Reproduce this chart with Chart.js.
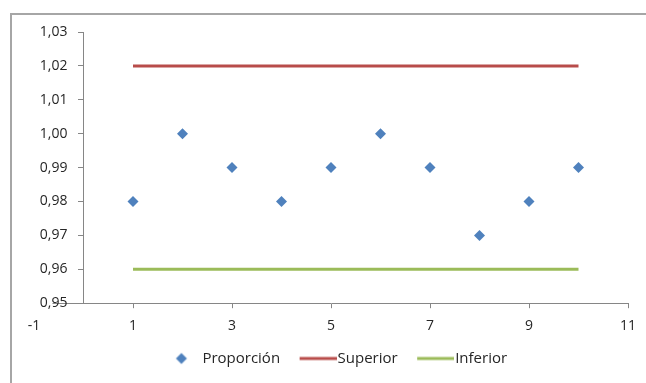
<!DOCTYPE html>
<html>
<head>
<meta charset="utf-8">
<script src="https://cdn.jsdelivr.net/npm/chart.js@4/dist/chart.umd.min.js"></script>
<style>
  html, body { margin: 0; padding: 0; background: #fff; }
  #wrap { position: relative; width: 646px; height: 383px; overflow: hidden; }
  #frame { position: absolute; left: 10px; top: 13px; width: 700px; height: 400px;
           border-left: 2px solid #a6a6a6; border-top: 2px solid #a6a6a6; }
  #chart { position: absolute; left: 0; top: 0; }
</style>
</head>
<body>
<div id="wrap">
  <div id="frame"></div>
  <canvas id="chart" width="646" height="383"></canvas>
</div>
<script>
const muestras = [1, 2, 3, 4, 5, 6, 7, 8, 9, 10];
const proporcion = [0.98, 1.00, 0.99, 0.98, 0.99, 1.00, 0.99, 0.97, 0.98, 0.99];
const superior = [1.02, 1.02, 1.02, 1.02, 1.02, 1.02, 1.02, 1.02, 1.02, 1.02];
const inferior = [0.96, 0.96, 0.96, 0.96, 0.96, 0.96, 0.96, 0.96, 0.96, 0.96];
const nombres = ["Proporción", "Superior", "Inferior"];
const colores = ["#4f81bd", "#b84c4a", "#9bbb59"];

const toPoints = (ys) => muestras.map((x, i) => ({ x: x, y: ys[i] }));

// y axis sits at x = 0 (like Excel) but its labels must stay left of the tick marks
class LinearScaleLeft extends Chart.LinearScale {
  _computeLabelItems(area) {
    const items = super._computeLabelItems(area);
    if (this.axis === "y") {
      const shift = this.options.ticks.padding + this.options.grid.tickLength;
      items.forEach((it) => {
        it.options.translation[0] -= shift;
        if (it.options.backdrop) it.options.backdrop.left -= shift;
      });
    }
    return items;
  }
}
LinearScaleLeft.id = "linearLeft";
LinearScaleLeft.defaults = Chart.LinearScale.defaults;
Chart.register(LinearScaleLeft);

// little legend markers, Excel style (legend box is 40 wide, icon canvas 53 wide centred on it)
function diamondIcon(color) {
  const c = document.createElement("canvas");
  c.width = 53;
  c.height = 14;
  const g = c.getContext("2d");
  g.fillStyle = color;
  g.beginPath();
  g.moveTo(33, 1.5);
  g.lineTo(38.5, 7);
  g.lineTo(33, 12.5);
  g.lineTo(27.5, 7);
  g.closePath();
  g.fill();
  return c;
}

function lineIcon(color) {
  const c = document.createElement("canvas");
  c.width = 53;
  c.height = 14;
  const g = c.getContext("2d");
  g.fillStyle = color;
  g.fillRect(16, 5.5, 37, 3);
  return c;
}

const iconos = [diamondIcon(colores[0]), lineIcon(colores[1]), lineIcon(colores[2])];

const fmt = (v) => Number(v).toFixed(2).replace(".", ",");

Chart.defaults.font.family = "'Open Sans', 'Noto Sans', sans-serif";
Chart.defaults.color = "#262626";

const config = {
  type: "scatter",
  data: {
    datasets: [
      {
        label: nombres[0],
        data: toPoints(proporcion),
        showLine: false,
        pointStyle: "rectRot",
        pointRadius: 5.5,
        pointBorderWidth: 0,
        backgroundColor: colores[0],
        borderColor: colores[0],
      },
      {
        label: nombres[1],
        data: toPoints(superior),
        showLine: true,
        pointRadius: 0,
        borderWidth: 3,
        borderColor: colores[1],
        backgroundColor: colores[1],
      },
      {
        label: nombres[2],
        data: toPoints(inferior),
        showLine: true,
        pointRadius: 0,
        borderWidth: 3,
        borderColor: colores[2],
        backgroundColor: colores[2],
      },
    ],
  },
  options: {
    responsive: false,
    animation: false,
    layout: {
      padding: { left: 34, right: 18, top: 32, bottom: 7 },
    },
    scales: {
      x: {
        type: "linear",
        min: -1,
        max: 11,
        border: { display: true, color: "#868686", width: 1 },
        grid: { display: true, drawOnChartArea: false, drawTicks: true, tickLength: 5, color: "#868686" },
        ticks: { stepSize: 2, padding: 9, font: { size: 14 } },
        afterFit: (s) => {
          s.height -= 2;
        },
      },
      y: {
        type: "linearLeft",
        position: { x: 0 },
        min: 0.95,
        max: 1.03,
        border: { display: true, color: "#868686", width: 1 },
        grid: { display: true, drawOnChartArea: false, drawTicks: true, tickLength: 5, color: "#868686" },
        ticks: {
          stepSize: 0.01,
          padding: 11,
          font: { size: 14 },
          showLabelBackdrop: true,
          backdropColor: "#ffffff",
          backdropPadding: 1,
          callback: (v) => fmt(v),
        },
      },
    },
    plugins: {
      tooltip: { enabled: false },
      legend: {
        position: "bottom",
        labels: {
          usePointStyle: true,
          pointStyleWidth: 40,
          padding: 10,
          font: { size: 15 },
          generateLabels: (chart) =>
            chart.data.datasets.map((ds, i) => ({
              text: ds.label,
              datasetIndex: i,
              pointStyle: iconos[i],
              fillStyle: colores[i],
              strokeStyle: colores[i],
              lineWidth: 0,
              hidden: false,
              fontColor: "#262626",
            })),
        },
      },
    },
  },
};

const grafico = new Chart(document.getElementById("chart"), config);
</script>
</body>
</html>
